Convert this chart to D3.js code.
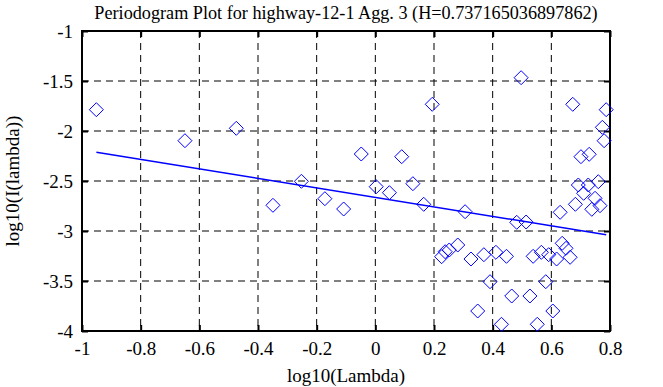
<!DOCTYPE html>
<html>
<head>
<meta charset="utf-8">
<script src="https://cdn.jsdelivr.net/npm/d3@7"></script>
<style>
  body { margin: 0; background: #fff; }
  svg text { font-family: "Liberation Serif", Tinos, "Times New Roman", Times, "DejaVu Serif", serif; fill: #000; }
</style>
</head>
<body>
<div id="chart"></div>
<script>
const title = 'Periodogram Plot for highway-12-1 Agg. 3 (H=0.737165036897862)';

const xTicks = [-1, -0.8, -0.6, -0.4, -0.2, 0, 0.2, 0.4, 0.6, 0.8];
const yTicks = [-1, -1.5, -2, -2.5, -3, -3.5, -4];

// log10(lambda), log10(I(lambda))
const logLambda = [
  -0.951, -0.649, -0.474, -0.349, -0.252, -0.172, -0.108, -0.048, 0.003, 0.048,
  0.090, 0.128, 0.165, 0.194, 0.226, 0.238, 0.252, 0.281, 0.306, 0.326,
  0.349, 0.370, 0.391, 0.411, 0.430, 0.447, 0.465, 0.482, 0.497, 0.514,
  0.527, 0.538, 0.552, 0.566, 0.581, 0.591, 0.605, 0.618, 0.630, 0.637,
  0.650, 0.664, 0.673, 0.682, 0.692, 0.701, 0.710, 0.726, 0.729, 0.738,
  0.749, 0.760, 0.766, 0.774, 0.780, 0.787
];
const logPower = [
  -1.787, -2.097, -1.973, -2.743, -2.503, -2.677, -2.780, -2.230, -2.557, -2.617,
  -2.257, -2.527, -2.733, -1.733, -3.257, -3.207, -3.190, -3.140, -2.807, -3.280,
  -3.800, -3.237, -3.507, -3.213, -3.933, -3.253, -3.650, -2.913, -1.467, -2.910,
  -3.650, -3.253, -3.933, -3.213, -3.507, -3.237, -3.800, -3.280, -2.813, -3.123,
  -3.173, -3.263, -1.733, -2.733, -2.540, -2.257, -2.623, -2.540, -2.233, -2.783,
  -2.673, -2.507, -2.747, -1.963, -2.097, -1.787
];

// least squares fit line end points
const fitX = [-0.951, 0.787];
const fitY = [-2.213, -3.037];

const width = 663, height = 387;
const margin = { top: 31, right: 53, bottom: 56, left: 82 };
const w = width - margin.left - margin.right;
const h = height - margin.top - margin.bottom;
const font = '"Liberation Serif", Tinos, "Times New Roman", Times, "DejaVu Serif", serif';

const svg = d3.select('#chart')
  .append('svg')
  .attr('width', width)
  .attr('height', height);

const g = svg.append('g')
  .attr('transform', `translate(${margin.left},${margin.top})`);

const x = d3.scaleLinear().domain([-1, 0.8]).range([0, w]);
const y = d3.scaleLinear().domain([-4, -1]).range([h, 0]);

// dashed grid
g.append('g')
  .selectAll('line')
  .data(xTicks.slice(1, -1))
  .join('line')
  .attr('x1', d => x(d)).attr('x2', d => x(d))
  .attr('y1', 0).attr('y2', h)
  .attr('stroke', '#000')
  .attr('stroke-dasharray', '7,5');

g.append('g')
  .selectAll('line')
  .data(yTicks.slice(1, -1))
  .join('line')
  .attr('y1', d => y(d)).attr('y2', d => y(d))
  .attr('x1', 0).attr('x2', w)
  .attr('stroke', '#000')
  .attr('stroke-dasharray', '7,5');

// axes, ticks pointing inward
const fmt = d => String(d);

function styleAxis (sel) {
  sel.attr('font-family', font).attr('font-size', 19);
  sel.select('.domain').remove();
  sel.selectAll('.tick line').attr('stroke', '#000').attr('stroke-width', 2);
  sel.selectAll('.tick text').attr('fill', '#000');
}

g.append('g')
  .attr('transform', `translate(0,${h})`)
  .call(d3.axisBottom(x).tickValues(xTicks).tickFormat(fmt).tickSize(-6).tickPadding(11))
  .call(styleAxis);

g.append('g')
  .call(d3.axisTop(x).tickValues(xTicks).tickFormat('').tickSize(-6))
  .call(styleAxis);

g.append('g')
  .call(d3.axisLeft(y).tickValues(yTicks).tickFormat(fmt).tickSize(-6).tickPadding(9))
  .call(styleAxis);

g.append('g')
  .attr('transform', `translate(${w},0)`)
  .call(d3.axisRight(y).tickValues(yTicks).tickFormat('').tickSize(-6))
  .call(styleAxis);

// frame
g.append('rect')
  .attr('width', w)
  .attr('height', h)
  .attr('fill', 'none')
  .attr('stroke', '#000')
  .attr('stroke-width', 2);

// fit line
g.append('line')
  .attr('x1', x(fitX[0])).attr('y1', y(fitY[0]))
  .attr('x2', x(fitX[1])).attr('y2', y(fitY[1]))
  .attr('stroke', '#0000ff')
  .attr('stroke-width', 1.5);

// diamonds
const diamond = 'M0,-7L7,0L0,7L-7,0Z';
g.append('g')
  .selectAll('path')
  .data(logLambda.map((v, i) => [v, logPower[i]]))
  .join('path')
  .attr('d', diamond)
  .attr('transform', d => `translate(${x(d[0])},${y(d[1])})`)
  .attr('fill', 'none')
  .attr('stroke', '#0000ff')
  .attr('stroke-width', 1);

// labels
svg.append('text')
  .attr('x', margin.left + w / 2)
  .attr('y', 19)
  .attr('text-anchor', 'middle')
  .attr('font-family', font)
  .attr('font-size', 18.2)
  .text(title);

svg.append('text')
  .attr('x', margin.left + w / 2)
  .attr('y', 382)
  .attr('text-anchor', 'middle')
  .attr('font-family', font)
  .attr('font-size', 19)
  .text('log10(Lambda)');

svg.append('text')
  .attr('transform', `translate(19,${margin.top + h / 2}) rotate(-90)`)
  .attr('text-anchor', 'middle')
  .attr('font-family', font)
  .attr('font-size', 19)
  .text('log10(I(lambda))');
</script>
</body>
</html>
